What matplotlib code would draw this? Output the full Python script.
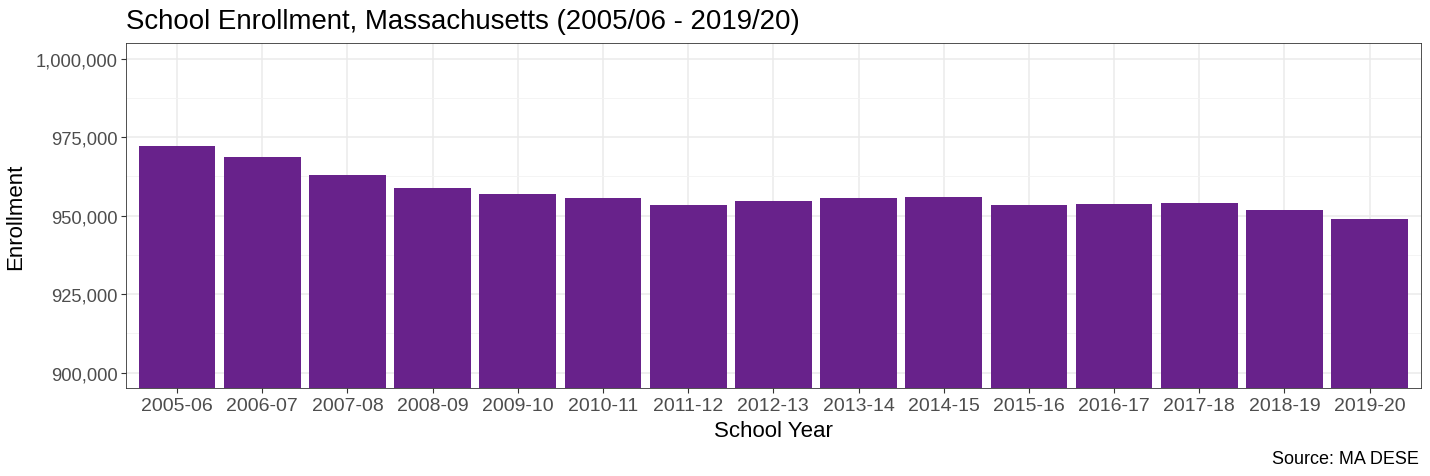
import numpy as np
import matplotlib
matplotlib.use('Agg')
import matplotlib.pyplot as plt
from matplotlib.ticker import FuncFormatter, MultipleLocator

plt.rcParams['font.family'] = ['Liberation Sans', 'DejaVu Sans']

# --- data ---------------------

school_years = ['2005-06', '2006-07', '2007-08', '2008-09', '2009-10',
	'2010-11', '2011-12', '2012-13', '2013-14', '2014-15',
	'2015-16', '2016-17', '2017-18', '2018-19', '2019-20']

enrollment = [972300, 968700, 962900, 958900, 957000,
	955600, 953400, 954800, 955700, 955900,
	953400, 953700, 954000, 951700, 948800]

# --- figure ---------------------

W, H = 1430, 477
fig = plt.figure(figsize = (W/100, H/100), dpi = 100)

ax = fig.add_axes([126/W, 1 - 389.3/H, (1420.7 - 126)/W, (389.3 - 44)/H])

x_ = np.arange(len(school_years))

ax.bar(x_, enrollment, width = 0.9, color = '#68228B', zorder = 3)

ax.set_ylim(895000, 1005000)
ax.set_xlim(-0.6, len(school_years) - 0.4)

ax.yaxis.set_major_locator(MultipleLocator(25000))
ax.yaxis.set_minor_locator(MultipleLocator(12500))
ax.yaxis.set_major_formatter(FuncFormatter(lambda v, p: '{:,.0f}'.format(v)))

ax.set_xticks(x_)
ax.set_xticklabels(school_years)

ax.grid(which = 'major', color = '#EBEBEB', lw = 1.1, zorder = 0)
ax.grid(which = 'minor', axis = 'y', color = '#F3F3F3', lw = 0.6, zorder = 0)
ax.set_axisbelow(True)

for s in ax.spines.values():
	s.set_color('#333333')
	s.set_linewidth(0.6)

ax.tick_params(axis = 'both', which = 'major', length = 3.5, width = 0.8,
	color = '#333333', pad = 2.5)
ax.tick_params(axis = 'y', which = 'minor', length = 0)
ax.tick_params(axis = 'y', labelsize = 13.2, labelcolor = '#4D4D4D')
ax.tick_params(axis = 'x', labelsize = 14, labelcolor = '#4D4D4D')

# --- texts ---------------------

fig.text(126/W, 1 - 29/H, 'School Enrollment, Massachusetts (2005/06 - 2019/20)',
	fontsize = 19.9, ha = 'left', va = 'baseline', color = 'black')

fig.text((126 + 1420.7)/2/W, 1 - 436.7/H, 'School Year',
	fontsize = 16, ha = 'center', va = 'baseline', color = 'black')

fig.text(26/W, 1 - 216.5/H, 'Enrollment', rotation = 90,
	fontsize = 16, ha = 'right', va = 'center', color = 'black')

fig.text(1419/W, 1 - 464/H, 'Source: MA DESE',
	fontsize = 13, ha = 'right', va = 'baseline', color = 'black')

fig.savefig('out.png', dpi = 100)
plt.close()
